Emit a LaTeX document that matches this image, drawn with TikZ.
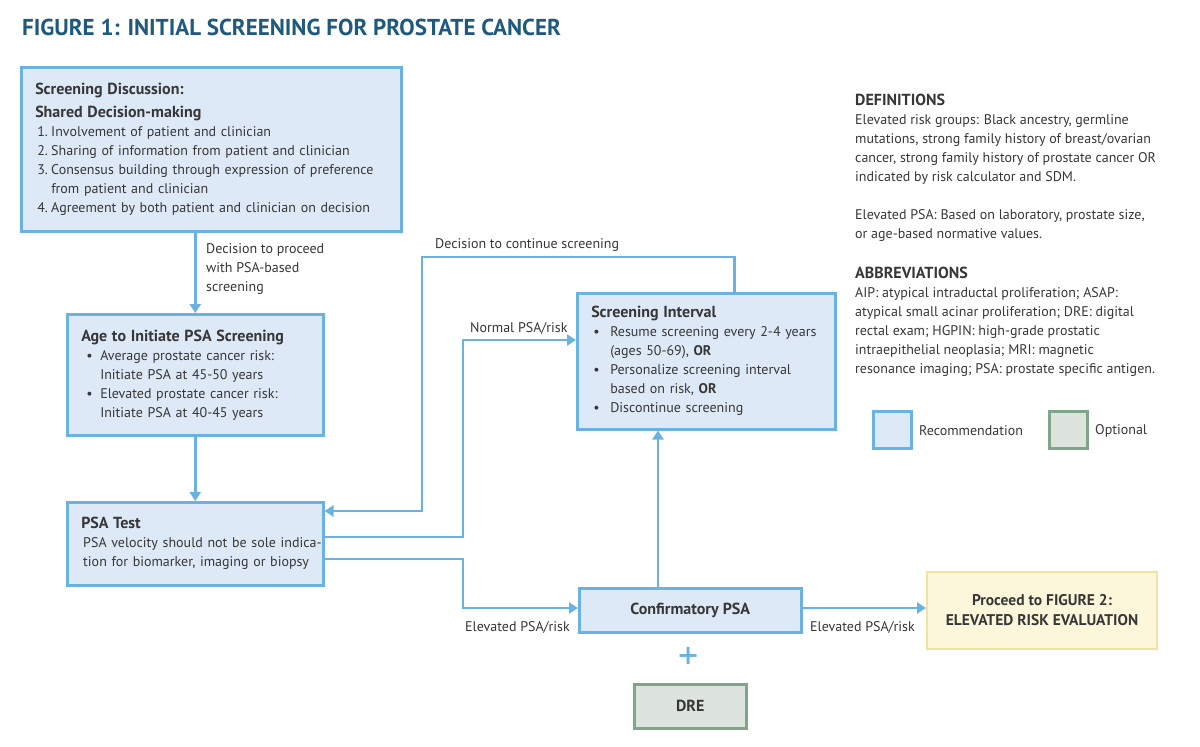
\documentclass[tikz,border=0pt]{standalone}
\usepackage{fontspec}
\setmainfont{PT Sans}
\usetikzlibrary{arrows.meta}
\definecolor{lineblue}{RGB}{106,178,226}
\definecolor{fillblue}{RGB}{221,233,246}
\definecolor{fillgreen}{RGB}{220,228,221}
\definecolor{linegreen}{RGB}{127,165,138}
\definecolor{fillyellow}{RGB}{252,247,218}
\definecolor{lineyellow}{RGB}{238,228,160}
\definecolor{titleblue}{RGB}{31,90,126}
\definecolor{txt}{RGB}{55,55,55}
\tikzset{
  base/.style={font=\fontsize{14}{19}\selectfont, text=txt},
  rec/.style={base, draw=lineblue, fill=fillblue, line width=2.5pt, anchor=north west, align=left, inner xsep=14pt, inner ysep=0pt},
  opt/.style={base, draw=linegreen, fill=fillgreen, line width=2.5pt, anchor=north west, align=center, inner sep=0pt, font=\fontsize{16}{19}\selectfont\bfseries},
  fwd/.style={base, draw=lineyellow, fill=fillyellow, line width=2pt, anchor=north west, align=center, inner sep=0pt, font=\fontsize{15.5}{20}\selectfont\bfseries},
  conn/.style={draw=lineblue, line width=2.5pt, -{Triangle[length=9pt,width=11pt]}},
  lbl/.style={base, inner sep=0pt, align=left},
}
\newcommand{\itm}[1]{\makebox[14pt][l]{#1}}
\newcommand{\hd}[1]{{\fontsize{16}{19}\selectfont\bfseries #1}}
\begin{document}
\begin{tikzpicture}[x=1pt,y=-1pt]
\useasboundingbox[fill=white] (0,0) rectangle (1200,747);

\node[anchor=base west, inner sep=0pt, text=titleblue, font=\fontsize{23}{26}\selectfont\bfseries] (title) at (22,35) {FIGURE 1: INITIAL SCREENING FOR PROSTATE CANCER};

\node[rec, minimum width=380, minimum height=164, text width=352] (s1) at (20,66) {%
\hd{Screening Discussion:}\\[4pt]
\hd{Shared Decision-making}\\
\hspace*{2pt}\itm{1.}Involvement of patient and clinician\\
\hspace*{2pt}\itm{2.}Sharing of information from patient and clinician\\
\hspace*{2pt}\itm{3.}Consensus building through expression of preference\\
\hspace*{2pt}\itm{}from patient and clinician\\
\hspace*{2pt}\itm{4.}Agreement by both patient and clinician on decision};

\node[rec, minimum width=256, minimum height=121, text width=228] (s2) at (66,313) {%
\hd{Age to Initiate PSA Screening}\\
\hspace*{5pt}\itm{\textbullet}Average prostate cancer risk:\\
\hspace*{5pt}\itm{}Initiate PSA at 45-50 years\\
\hspace*{5pt}\itm{\textbullet}Elevated prostate cancer risk:\\
\hspace*{5pt}\itm{}Initiate PSA at 40-45 years};

\node[rec, minimum width=256, minimum height=83, text width=250, inner xsep=3pt] (s3) at (66,501) {%
\hspace*{11pt}\hd{PSA Test}\\
\hspace*{13pt}\mbox{PSA velocity should not be sole indica-}\\
\hspace*{13pt}\mbox{tion for biomarker, imaging or biopsy}};

\node[rec, minimum width=258, minimum height=136, text width=230] (s4) at (576,292) {%
\hd{Screening Interval}\\
\hspace*{2pt}\itm{\textbullet}\hspace*{3pt}Resume screening every 2-4 years\\
\hspace*{2pt}\itm{}\hspace*{3pt}(ages 50-69), \textbf{OR}\\
\hspace*{2pt}\itm{\textbullet}\hspace*{3pt}Personalize screening interval\\
\hspace*{2pt}\itm{}\hspace*{3pt}based on risk, \textbf{OR}\\
\hspace*{2pt}\itm{\textbullet}\hspace*{3pt}Discontinue screening};

\node[rec, align=center, inner xsep=0pt, minimum width=222, minimum height=44, font=\fontsize{16}{19}\selectfont\bfseries] (s5) at (578,587) {Confirmatory PSA};

\node[opt, minimum width=112, minimum height=44] (dre) at (633,683) {DRE};

\node[fwd, minimum width=230, minimum height=77] (s6) at (926,571) {Proceed to FIGURE 2:\\ELEVATED RISK EVALUATION};

\node[text=lineblue, inner sep=0pt, font=\fontsize{40}{40}\selectfont] (plus) at (689,658) {+};

% connectors
\draw[conn] (s1.south -| s2.north) -- (s2.north);
\draw[conn] (s2.south) -- (s3.north);
\draw[conn] ([xshift=28pt]s4.north) -- ++(0,-35) -| (422,511) -- (s3.east |- 0,511);
\draw[conn] (s3.east |- 0,537) -| (463,340) -- (s4.west |- 0,340);
\draw[conn] (s3.east |- 0,559) -| (463,608) -- (s5.west |- 0,608);
\draw[conn] (s5.north -| 658,0) -- (s4.south -| 658,0);
\draw[conn] (s5.east |- 0,608) -- (s6.west |- 0,608);

% labels
\node[lbl, anchor=north west] (l1) at (206,243) {Decision to proceed\\with PSA-based\\screening};
\node[lbl, anchor=base west] (l2) at (435,248) {Decision to continue screening};
\node[lbl, anchor=base west] (l3) at (470,332) {Normal PSA/risk};
\node[lbl, anchor=base west] (l4) at (465,631) {Elevated PSA/risk};
\node[lbl, anchor=base west] (l5) at (810,631) {Elevated PSA/risk};

% definitions
\node[lbl, anchor=north west] (defs) at (855,94) {%
\hd{DEFINITIONS}\\
Elevated risk groups: Black ancestry, germline\\
mutations, strong family history of breast/ovarian\\
cancer, strong family history of prostate cancer OR\\
indicated by risk calculator and SDM.\\[19pt]
Elevated PSA: Based on laboratory, prostate size,\\
or age-based normative values.\\[21pt]
\hd{ABBREVIATIONS}\\
AIP: atypical intraductal proliferation; ASAP:\\
atypical small acinar proliferation; DRE: digital\\
rectal exam; HGPIN: high-grade prostatic\\
intraepithelial neoplasia; MRI: magnetic\\
resonance imaging; PSA: prostate specific antigen.};

% legend
\node[draw=lineblue, fill=fillblue, line width=2.5pt, minimum width=38, minimum height=37, inner sep=0pt, anchor=north west] (legrec) at (872,410) {};
\node[lbl, anchor=west] (legrect) at (919,431) {Recommendation};
\node[draw=linegreen, fill=fillgreen, line width=2.5pt, minimum width=38, minimum height=37, inner sep=0pt, anchor=north west] (legopt) at (1048,410) {};
\node[lbl, anchor=west] (legoptt) at (1095,431) {Optional};
\end{tikzpicture}
\end{document}
